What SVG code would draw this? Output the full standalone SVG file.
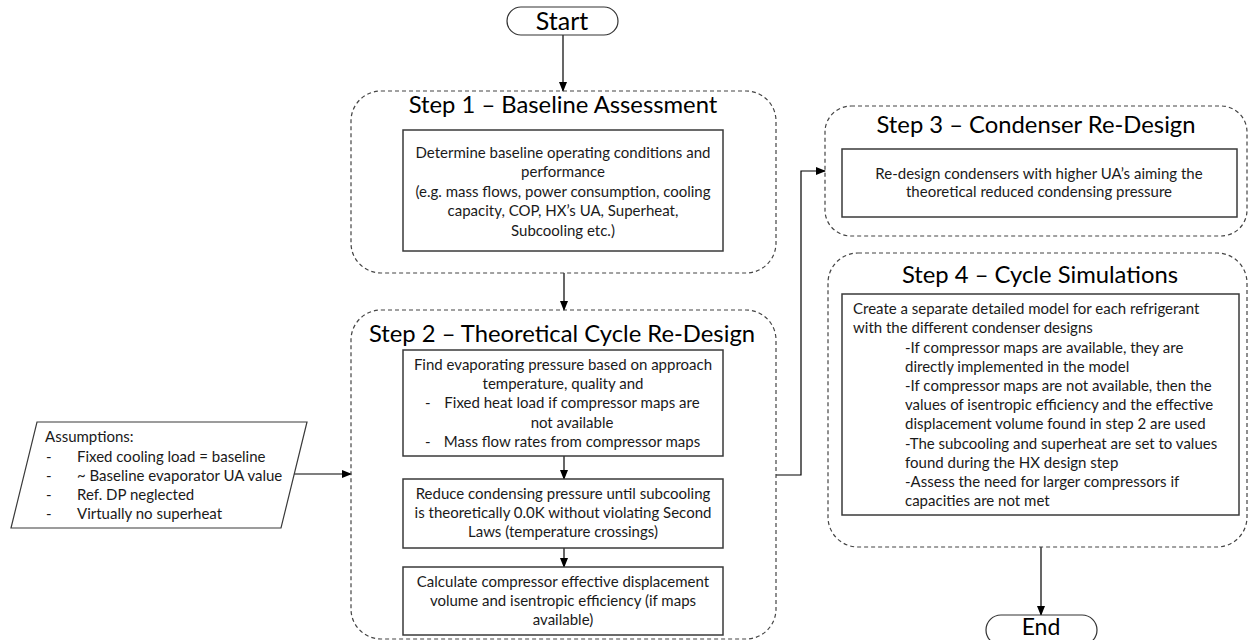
<svg xmlns="http://www.w3.org/2000/svg" width="1250" height="640" viewBox="0 0 1250 640">
<defs>
<marker id="arr" markerWidth="10" markerHeight="8" refX="9" refY="4" orient="auto" markerUnits="userSpaceOnUse">
<path d="M0,0 L10,4 L0,8 Z" fill="#000"/>
</marker>
<style>
.step{fill:none;stroke:#444;stroke-width:1.2;stroke-dasharray:4 3}
.box{fill:#fff;stroke:#3a3a3a;stroke-width:1.5}
.pill{fill:#fff;stroke:#333;stroke-width:1.2}
.conn{fill:none;stroke:#000;stroke-width:1.2;marker-end:url(#arr)}
.title{font-family:Lato,"Liberation Sans",sans-serif;font-size:23.8px;fill:#000;text-anchor:middle}
.t{font-family:Lato,"Liberation Sans",sans-serif;font-size:15px;fill:#1a1a1a}
.c{text-anchor:middle}
.term{font-family:Lato,"Liberation Sans",sans-serif;font-size:25px;fill:#000;text-anchor:middle}
</style>
</defs>
<rect width="1250" height="640" fill="#fff"/>

<g id="connectors">
<line class="conn" x1="563" y1="35" x2="563" y2="91"/>
<line class="conn" x1="564" y1="273" x2="564" y2="310"/>
<line class="conn" x1="564" y1="456" x2="564" y2="479"/>
<line class="conn" x1="564" y1="548" x2="564" y2="567"/>
<line class="conn" x1="294" y1="474" x2="351" y2="474"/>
<polyline class="conn" points="776,475 801,475 801,171 825,171"/>
<line class="conn" x1="1041" y1="547" x2="1041" y2="615"/>
</g>

<g id="start">
<rect class="pill" x="507" y="7" width="111" height="28" rx="14"/>
<text class="term" x="562" y="30">Start</text>
</g>

<g id="step1">
<rect class="step" x="351" y="91" width="425" height="182" rx="30"/>
<text class="title" x="563" y="113">Step 1 – Baseline Assessment</text>
<rect class="box" x="403" y="130" width="320" height="121"/>
<text class="t c" x="563" y="158">Determine baseline operating conditions and</text>
<text class="t c" x="563" y="177">performance</text>
<text class="t c" x="563" y="197">(e.g. mass flows, power consumption, cooling</text>
<text class="t c" x="563" y="216">capacity, COP, HX’s UA, Superheat,</text>
<text class="t c" x="563" y="236">Subcooling etc.)</text>
</g>

<g id="step2">
<rect class="step" x="351" y="310" width="425" height="329" rx="30"/>
<text class="title" x="562" y="342">Step 2 – Theoretical Cycle Re-Design</text>
</g>

<g id="step2a">
<rect class="box" x="403" y="350" width="320" height="106"/>
<text class="t c" x="563" y="370">Find evaporating pressure based on approach</text>
<text class="t c" x="563" y="389">temperature, quality and</text>
<text class="t" x="425" y="408">-</text>
<text class="t c" x="572" y="408">Fixed heat load if compressor maps are</text>
<text class="t c" x="572" y="428">not available</text>
<text class="t" x="425" y="447">-</text>
<text class="t c" x="572" y="447">Mass flow rates from compressor maps</text>
</g>

<g id="step2b">
<rect class="box" x="403" y="479" width="320" height="69"/>
<text class="t c" x="563" y="499">Reduce condensing pressure until subcooling</text>
<text class="t c" x="563" y="518">is theoretically 0.0K without violating Second</text>
<text class="t c" x="563" y="537">Laws (temperature crossings)</text>
</g>

<g id="step2c">
<rect class="box" x="403" y="567" width="320" height="68"/>
<text class="t c" x="563" y="587">Calculate compressor effective displacement</text>
<text class="t c" x="563" y="606">volume and isentropic efficiency (if maps</text>
<text class="t c" x="563" y="625">available)</text>
</g>

<g id="step3">
<rect class="step" x="825" y="106" width="422" height="130" rx="26"/>
<text class="title" x="1036" y="133">Step 3 – Condenser Re-Design</text>
<rect class="box" x="842" y="149" width="395" height="68"/>
<text class="t c" x="1039" y="179">Re-design condensers with higher UA’s aiming the</text>
<text class="t c" x="1039" y="197">theoretical reduced condensing pressure</text>
</g>

<g id="step4">
<rect class="step" x="828" y="253" width="419" height="294" rx="30"/>
<text class="title" x="1040" y="283">Step 4 – Cycle Simulations</text>
<rect class="box" x="842" y="294" width="397" height="221"/>
<text class="t" x="853" y="314">Create a separate detailed model for each refrigerant</text>
<text class="t" x="853" y="333">with the different condenser designs</text>
<text class="t" x="905" y="353">-If compressor maps are available, they are</text>
<text class="t" x="905" y="372">directly implemented in the model</text>
<text class="t" x="905" y="391">-If compressor maps are not available, then the</text>
<text class="t" x="905" y="410">values of isentropic efficiency and the effective</text>
<text class="t" x="905" y="429">displacement volume found in step 2 are used</text>
<text class="t" x="905" y="449">-The subcooling and superheat are set to values</text>
<text class="t" x="905" y="468">found during the HX design step</text>
<text class="t" x="905" y="487">-Assess the need for larger compressors if</text>
<text class="t" x="905" y="506">capacities are not met</text>
</g>

<g id="assumptions">
<polygon class="box" points="37,422 307,422 281,528 11,528" style="stroke-width:1.2"/>
<text class="t" x="45" y="442">Assumptions:</text>
<text class="t" x="46" y="462">-</text>
<text class="t" x="77" y="462">Fixed cooling load = baseline</text>
<text class="t" x="46" y="481">-</text>
<text class="t" x="77" y="481">~ Baseline evaporator UA value</text>
<text class="t" x="46" y="500">-</text>
<text class="t" x="77" y="500">Ref. DP neglected</text>
<text class="t" x="46" y="519">-</text>
<text class="t" x="77" y="519">Virtually no superheat</text>
</g>

<g id="end">
<rect class="pill" x="986" y="615" width="111" height="30" rx="15"/>
<text class="term" x="1041" y="635" style="font-size:23px">End</text>
</g>
</svg>
